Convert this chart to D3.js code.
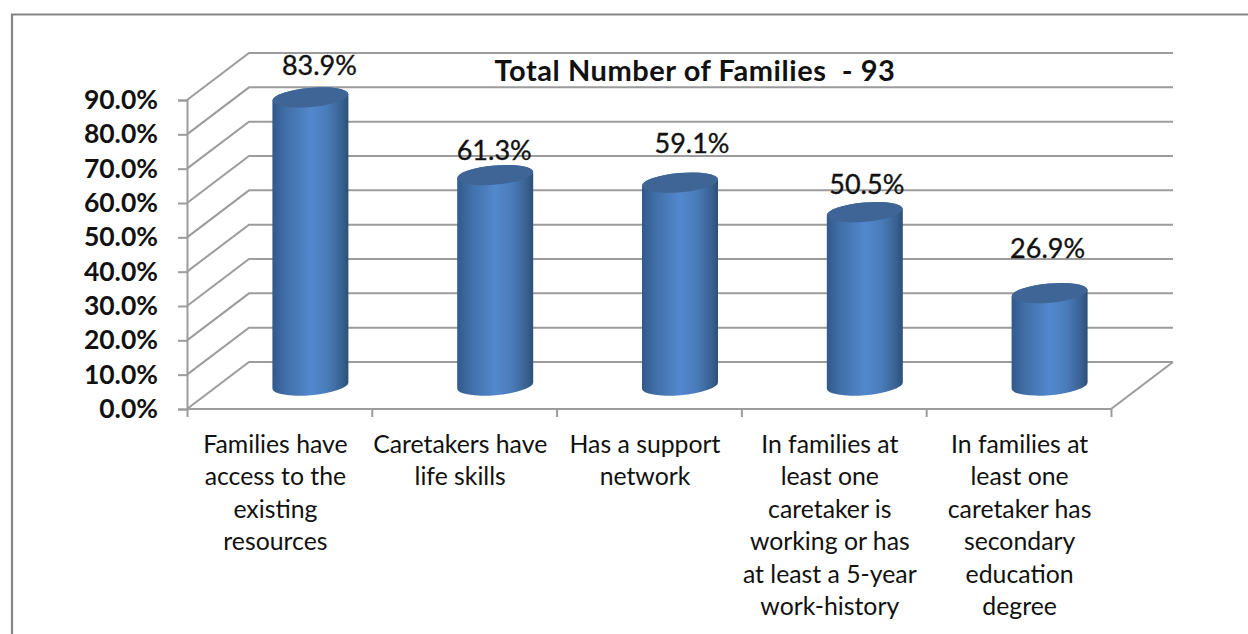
<!DOCTYPE html>
<html>
<head>
<meta charset="utf-8">
<script src="https://cdnjs.cloudflare.com/ajax/libs/d3/7.8.5/d3.min.js"></script>
<style>
  html, body { margin: 0; background: #fff; }
  svg { display: block; }
  text { font-family: Lato, "Open Sans", sans-serif; fill: #111; }
</style>
</head>
<body>
<svg id="chart" width="1248" height="634"></svg>
<script>
// Share of families meeting each criterion
const categories = [
  ["Families have", "access to the", "existing", "resources"],
  ["Caretakers have", "life skills"],
  ["Has a support", "network"],
  ["In families at", "least one", "caretaker is", "working or has", "at least a 5-year", "work-history"],
  ["In families at", "least one", "caretaker has", "secondary", "education", "degree"]
];
const values = [83.9, 61.3, 59.1, 50.5, 26.9];
const valueTicks = [0, 10, 20, 30, 40, 50, 60, 70, 80, 90];
const chartTitle = "Total Number of Families  - 93";

// Hand placement of the value labels, relative to each cylinder's top
const labelNudge = [[9, -33], [-1, -26], [12, -40], [2, -29], [-2, -46]];
// Hand placement of the category labels, relative to each band's centre
const categoryNudge = [-4, -4, -4, -4, 1];

// Oblique projection of the 3-D box
const depthX = 62, depthY = -47;
const front = { left: 187, right: 1111, bottom: 409, top: 100 };
const barWidth = 76, tilt = 3.2, rimRy = 9.6;

const svg = d3.select("#chart");
const y = d3.scaleLinear().domain([0, 90]).range([front.bottom, front.top]);
const x = d3.scaleBand().domain(d3.range(values.length)).range([front.left, front.right]);

const defs = svg.append("defs");
const grad = defs.append("linearGradient").attr("id", "cyl").attr("x1", 0).attr("x2", 1).attr("y1", 0).attr("y2", 0);
[[0, "#315a8b"], [0.18, "#416fa8"], [0.5, "#5288cd"], [0.72, "#4a7cba"], [0.92, "#38608f"], [1, "#2d4f78"]]
  .forEach(([o, c]) => grad.append("stop").attr("offset", o).attr("stop-color", c));

// Outer frame, open to the right and bottom
svg.append("path")
  .attr("d", d3.line()([[12, 634], [12, 14.5], [1248, 14.5]]))
  .attr("fill", "none").attr("stroke", "#858585").attr("stroke-width", 2.2);

const wall = svg.append("g").attr("fill", "none").attr("stroke", "#9c9c9c").attr("stroke-width", 2);

// Back wall lines and their diagonals down the side wall
valueTicks.forEach(t => {
  const fy = y(t);
  wall.append("path").attr("d", d3.line()([
    [front.left, fy],
    [front.left + depthX, fy + depthY],
    [front.left + depthX + (front.right - front.left), fy + depthY]
  ]));
});
// Floor edges
wall.append("path").attr("d", d3.line()([
  [front.left, front.bottom],
  [front.right, front.bottom],
  [front.right + depthX, front.bottom + depthY]
]));

// Value axis
const yAxis = svg.append("g")
  .attr("transform", `translate(${front.left},0)`)
  .call(d3.axisLeft(y).tickValues(valueTicks).tickSize(9).tickPadding(20).tickFormat(d => d.toFixed(1) + "%"));
yAxis.selectAll("path, line").attr("stroke", "#9c9c9c").attr("stroke-width", 2);
yAxis.selectAll("text").attr("font-size", 26.5).attr("font-weight", 700).attr("font-family", "Lato").attr("fill", "#111");

// Category axis: ticks fall on the band edges, labels are set separately
const xEdge = d3.scaleLinear().domain([0, values.length]).range([front.left, front.right]);
const xAxis = svg.append("g")
  .attr("transform", `translate(0,${front.bottom})`)
  .call(d3.axisBottom(xEdge).ticks(values.length).tickSize(8).tickFormat(""));
xAxis.select("path").remove();
xAxis.selectAll("line").attr("stroke", "#9c9c9c").attr("stroke-width", 2);

categories.forEach((lines, i) => {
  const cx = x(i) + x.bandwidth() / 2 + categoryNudge[i];
  const t = svg.append("text").attr("text-anchor", "middle").attr("font-size", 24.8).attr("fill", "#222");
  lines.forEach((s, k) => t.append("tspan").attr("x", cx).attr("y", 453 + k * 32.4).text(s));
});

// Cylinders stand on the mid-depth plane of the floor
const midX = i => x(i) + x.bandwidth() / 2 + depthX / 2;
const midY = v => y(v) + depthY / 2;

const bars = svg.append("g").selectAll("g").data(values).join("g");
bars.append("path")
  .attr("fill", "url(#cyl)")
  .attr("d", (v, i) => {
    const cx = midX(i), r = barWidth / 2, top = midY(v), base = midY(0);
    return `M${cx - r},${top + tilt}` +
      `A${r},${rimRy} -5 0 1 ${cx + r},${top - tilt}` +
      `L${cx + r},${base - tilt}` +
      `A${r},${rimRy} -5 0 1 ${cx - r},${base + tilt}Z`;
  });
bars.append("ellipse")
  .attr("fill", "#3e6595")
  .attr("cx", 0).attr("cy", 0)
  .attr("rx", barWidth / 2).attr("ry", rimRy)
  .attr("transform", (v, i) => `translate(${midX(i)},${midY(v)}) rotate(-5)`);

// Value labels
svg.append("g").selectAll("text").data(values).join("text")
  .attr("text-anchor", "middle")
  .attr("dominant-baseline", "central")
  .attr("font-size", 27)
  .attr("stroke", "#111").attr("stroke-width", 0.35)
  .attr("x", (v, i) => midX(i) + labelNudge[i][0])
  .attr("y", (v, i) => midY(v) + labelNudge[i][1])
  .text(v => v.toFixed(1) + "%");

// Title
svg.append("text")
  .attr("x", 695).attr("y", 69)
  .attr("text-anchor", "middle").attr("dominant-baseline", "central")
  .attr("font-size", 29).attr("font-weight", 700).attr("letter-spacing", 0.55)
  .attr("xml:space", "preserve").style("white-space", "pre")
  .text(chartTitle);
</script>
</body>
</html>
